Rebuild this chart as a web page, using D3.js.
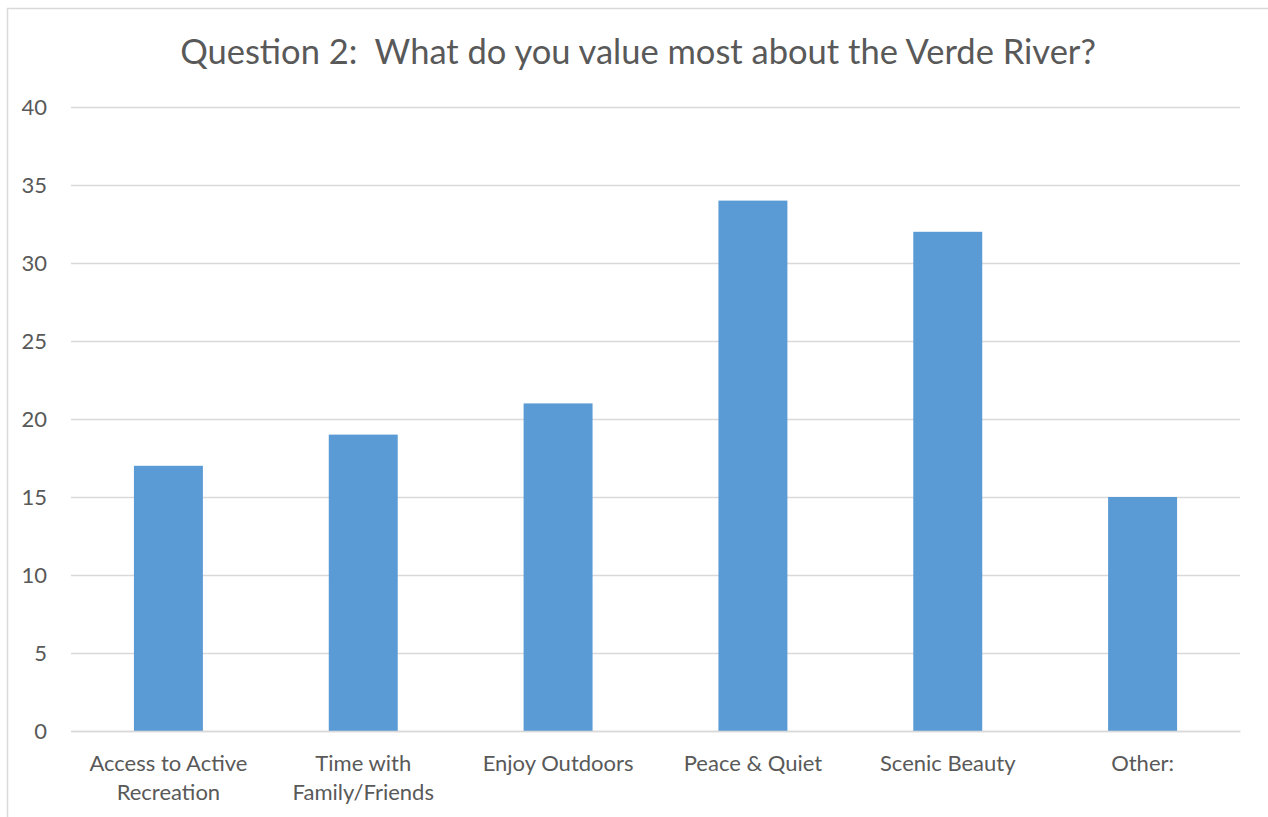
<!DOCTYPE html>
<html>
<head>
<meta charset="utf-8">
<script src="https://cdn.jsdelivr.net/npm/d3@7"></script>
<style>
  html, body { margin: 0; padding: 0; background: #fff; }
  svg { display: block; }
  text { font-family: Lato, "Open Sans", sans-serif; fill: #595959; }
</style>
</head>
<body>
<svg id="chart" width="1268" height="817"></svg>
<script>
const title = "Question 2:  What do you value most about the Verde River?";
const categories = ["Access to Active\nRecreation", "Time with\nFamily/Friends", "Enjoy Outdoors", "Peace & Quiet", "Scenic Beauty", "Other:"];
const values = [17, 19, 21, 34, 32, 15];
const yTicks = [0, 5, 10, 15, 20, 25, 30, 35, 40];

const W = 1268, H = 817;
const margin = { left: 71, right: 28, top: 107, bottom: 86 };
const svg = d3.select("#chart");

svg.append("rect")
  .attr("x", 7.5).attr("y", 8.5)
  .attr("width", W).attr("height", H)
  .attr("fill", "#fff").attr("stroke", "#d9d9d9").attr("stroke-width", 1.5);

const x = d3.scaleBand()
  .domain(categories)
  .range([margin.left, W - margin.right])
  .paddingInner(0).paddingOuter(0);

const y = d3.scaleLinear()
  .domain([0, 40])
  .range([H - margin.bottom, margin.top]);

// gridlines
const yAxis = d3.axisLeft(y).tickValues(yTicks).tickSize(-(W - margin.left - margin.right)).tickPadding(24);
const gy = svg.append("g").attr("transform", `translate(${margin.left},0)`).call(yAxis);
gy.select(".domain").remove();
gy.selectAll(".tick line").attr("stroke", "#d9d9d9").attr("stroke-width", 1.5);
gy.selectAll(".tick text").style("font-size", "22px").attr("fill", "#595959").attr("dy", "0.35em");

// bars
const barFrac = 0.354;
svg.append("g").selectAll("rect")
  .data(values)
  .join("rect")
  .attr("x", (d, i) => x(categories[i]) + x.bandwidth() * (1 - barFrac) / 2)
  .attr("width", x.bandwidth() * barFrac)
  .attr("y", d => y(d))
  .attr("height", d => y(0) - y(d))
  .attr("fill", "#5b9bd5");

// x axis
const xAxis = d3.axisBottom(x).tickSize(0).tickFormat("");
const gx = svg.append("g").attr("transform", `translate(0,${y(0)})`).call(xAxis);
gx.select(".domain").attr("stroke", "#d9d9d9").attr("stroke-width", 1.5);
gx.selectAll(".tick").each(function(d) {
  const lines = d.split("\n");
  const t = d3.select(this).append("text")
    .attr("text-anchor", "middle")
    .style("font-size", "22px");
  lines.forEach((ln, i) => {
    t.append("tspan").attr("x", 0).attr("y", 40 + i * 29).text(ln);
  });
});

// title
svg.append("text")
  .attr("x", 638).attr("y", 64)
  .attr("text-anchor", "middle")
  .style("font-size", "34.5px")
  .style("white-space", "pre")
  .text(title);
</script>
</body>
</html>
